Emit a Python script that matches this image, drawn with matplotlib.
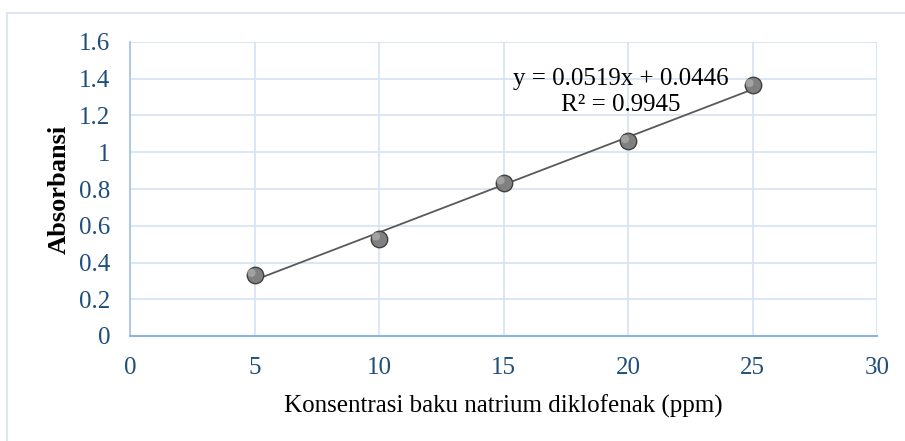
import matplotlib.pyplot as plt
import numpy as np

# Data
konsentrasi = [5, 10, 15, 20, 25]
absorbansi = [0.332, 0.530, 0.835, 1.060, 1.365]
slope = 0.0519
intercept = 0.0446
r2 = 0.9945

plt.rcParams['font.family'] = ['Liberation Serif', 'DejaVu Serif']

fig = plt.figure(figsize=(9.05, 4.41), dpi=100)
ax = fig.add_axes([130 / 905, 1 - 336 / 441, (877 - 130) / 905, (336 - 42) / 441])

# outer chart border (top and left only visible)
fig.add_artist(plt.Line2D([7 / 905, 7 / 905], [0, 1 - 13 / 441], color='#D6E3F3', lw=1.2,
                          transform=fig.transFigure))
fig.add_artist(plt.Line2D([7 / 905, 1], [1 - 13 / 441, 1 - 13 / 441], color='#D6E3F3', lw=1.2,
                          transform=fig.transFigure))

# trendline
xt = np.array([konsentrasi[0], konsentrasi[-1]])
ax.plot(xt, slope * xt + intercept, color='#595959', lw=1.3, zorder=3)

# points
ax.scatter(konsentrasi, absorbansi, s=140, color='#808080', edgecolor='#404040',
           linewidth=1.0, zorder=4)
ax.scatter(np.array(konsentrasi) - 0.12, np.array(absorbansi) + 0.012, s=35, color='#ABABAB',
           edgecolor='none', zorder=5, alpha=0.8)

ax.set_xlim(0, 30)
ax.set_ylim(0, 1.6)
ax.set_xticks(range(0, 31, 5))
ax.set_yticks(np.arange(0, 1.61, 0.2))
ax.set_yticklabels(['0', '0.2', '0.4', '0.6', '0.8', '1', '1.2', '1.4', '1.6'])

ax.grid(True, color='#D6E3F3', lw=1.2)
ax.set_axisbelow(True)
for s in ['top', 'right']:
    ax.spines[s].set_visible(False)
ax.spines['left'].set_color('#A9C4EB')
ax.spines['bottom'].set_color('#8FB3E0')
ax.spines['left'].set_linewidth(1.3)
ax.spines['bottom'].set_linewidth(1.5)
ax.tick_params(length=0, labelsize=18, labelcolor='#1F4E79')
ax.tick_params(axis='y', pad=14)
ax.tick_params(axis='x', pad=15)

ax.set_xlabel('Konsentrasi baku natrium diklofenak (ppm)', fontsize=18, labelpad=11)
ax.set_ylabel('Absorbansi', fontsize=19, fontweight='bold', labelpad=6)

ax.text(19.7, 1.398, 'y = 0.0519x + 0.0446', fontsize=18, ha='center', va='center')
ax.text(19.7, 1.256, 'R² = 0.9945', fontsize=18, ha='center', va='center')

fig.savefig('out.png', dpi=100)
